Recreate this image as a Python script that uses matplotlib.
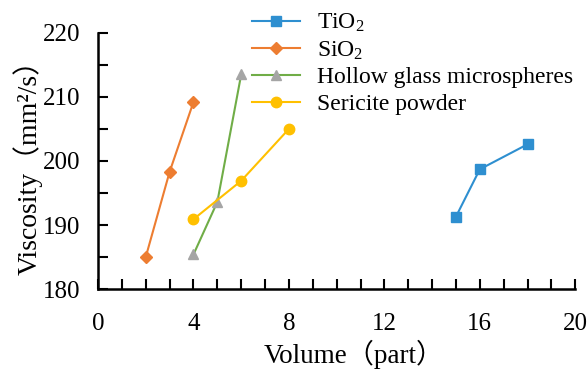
import matplotlib
matplotlib.use("Agg")
import matplotlib.pyplot as plt
from matplotlib.ticker import MultipleLocator

plt.rcParams['font.family'] = ['Liberation Serif', 'Noto Sans CJK SC']
plt.rcParams['mathtext.fontset'] = 'custom'
plt.rcParams['mathtext.rm'] = 'Liberation Serif'
plt.rcParams['mathtext.it'] = 'Liberation Serif:italic'

labels = ["TiO$_2$", "SiO$_2$", "Hollow glass microspheres", "Sericite powder"]
tio2_x = [15, 16, 18]
tio2_y = [191.3, 198.7, 202.6]
sio2_x = [2, 3, 4]
sio2_y = [185.0, 198.3, 209.2]
hgm_x = [4, 5, 6]
hgm_y = [185.4, 193.6, 213.5]
ser_x = [4, 6, 8]
ser_y = [190.9, 196.9, 205.0]

fig = plt.figure(figsize=(5.87, 3.73), dpi=100)
ax = fig.add_axes([0.167, 0.225, 0.813, 0.687])

ax.plot(tio2_x, tio2_y, color='#2E8FD0', marker='s', markersize=7, lw=1.5, label=labels[0])
ax.plot(sio2_x, sio2_y, color='#ED7D31', marker='D', markersize=6, lw=1.5, label=labels[1])
ax.plot(hgm_x, hgm_y, color='#70AD47', marker='^', markersize=7.5, lw=1.5,
        markerfacecolor='#A5A5A5', markeredgecolor='#A5A5A5', label=labels[2])
ax.plot(ser_x, ser_y, color='#FFC000', marker='o', markersize=7.5, lw=1.5, label=labels[3])

ax.set_xlim(0, 20)
ax.set_ylim(180, 220)
ax.xaxis.set_major_locator(MultipleLocator(4))
ax.xaxis.set_minor_locator(MultipleLocator(1))
ax.yaxis.set_major_locator(MultipleLocator(10))
ax.yaxis.set_minor_locator(MultipleLocator(5))
ax.tick_params(which='both', direction='in', width=1.5, labelsize=18, length=7)
ax.tick_params(axis='x', pad=17)
ax.tick_params(axis='y', pad=13)
for s in ['top', 'right']:
    ax.spines[s].set_visible(False)
for s in ['left', 'bottom']:
    ax.spines[s].set_linewidth(1.8)

ax.set_xlabel("Volume（part）", fontsize=19.5, labelpad=7)
ax.set_ylabel("Viscosity（mm²/s）", fontsize=20, labelpad=0)
ax.xaxis.set_label_coords(0.535, -0.2, transform=ax.transAxes)
ax.xaxis.label.set_va('top')

ax.legend(loc='upper left', bbox_to_anchor=(0.41, 1.0), bbox_transform=fig.transFigure,
          frameon=False, fontsize=17, handlelength=2.0, handletextpad=0.75,
          labelspacing=0.22, borderaxespad=0.1)

fig.savefig("out.png", dpi=100)
